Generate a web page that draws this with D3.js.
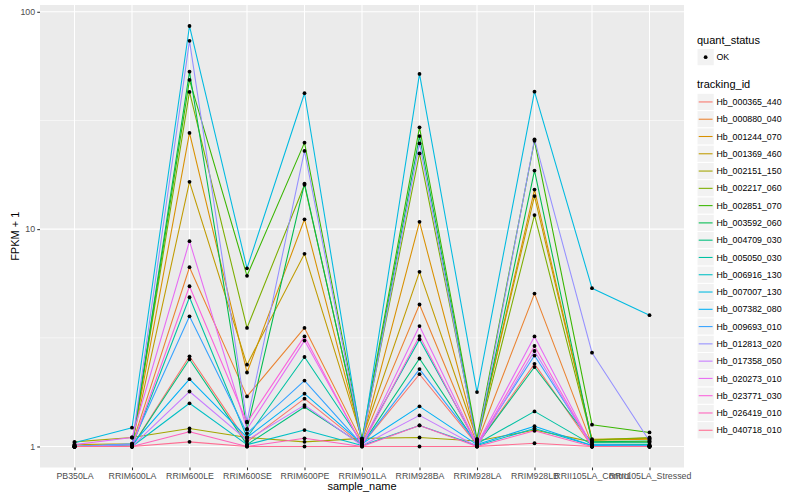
<!DOCTYPE html>
<html>
<head>
<meta charset="utf-8">
<script src="https://cdn.jsdelivr.net/npm/d3@7"></script>
<style>
  html, body { margin: 0; padding: 0; background: #ffffff; }
  svg { display: block; font-family: "Liberation Sans", Arial, Helvetica, sans-serif; }
</style>
</head>
<body>
<svg id="chart" width="800" height="500"></svg>
<script>
// ---------------- data (values are FPKM + 1) ----------------
const samples = ["PB350LA", "RRIM600LA", "RRIM600LE", "RRIM600SE", "RRIM600PE", "RRIM901LA",
                 "RRIM928BA", "RRIM928LA", "RRIM928LB", "RRII105LA_Control", "RRII105LA_Stressed"];

const trackingIds = ["Hb_000365_440", "Hb_000880_040", "Hb_001244_070", "Hb_001369_460", "Hb_002151_150",
                     "Hb_002217_060", "Hb_002851_070", "Hb_003592_060", "Hb_004709_030", "Hb_005050_030",
                     "Hb_006916_130", "Hb_007007_130", "Hb_007382_080", "Hb_009693_010", "Hb_012813_020",
                     "Hb_017358_050", "Hb_020273_010", "Hb_023771_030", "Hb_026419_010", "Hb_040718_010"];

const seriesColors = ["#F8766D", "#EA8331", "#D89000", "#C09B00", "#A3A500", "#7CAE00", "#39B600", "#00BB4E",
                      "#00BF7D", "#00C1A3", "#00BFC4", "#00BAE0", "#00B0F6", "#35A2FF", "#9590FF", "#C77CFF",
                      "#E76BF3", "#FA62DB", "#FF62BC", "#FF6C91"];

const quantStatus = ["OK"];

const hb_000365_440 = [1.00, 1.00, 2.60, 1.05, 1.66, 1.02, 2.15, 1.02, 2.40, 1.00, 1.00];
const hb_000880_040 = [1.00, 1.02, 6.68, 1.70, 3.51, 1.05, 4.50, 1.04, 5.05, 1.02, 1.01];
const hb_001244_070 = [1.00, 1.02, 27.7, 2.19, 11.1, 1.06, 10.8, 1.06, 15.2, 1.07, 1.08];
const hb_001369_460 = [1.02, 1.03, 16.5, 2.38, 7.70, 1.08, 6.36, 1.08, 14.2, 1.08, 1.09];
const hb_002151_150 = [1.05, 1.10, 1.21, 1.10, 1.05, 1.09, 1.10, 1.06, 1.19, 1.05, 1.05];
const hb_002217_060 = [1.00, 1.00, 42.8, 3.51, 16.0, 1.06, 22.3, 1.05, 11.6, 1.07, 1.10];
const hb_002851_070 = [1.00, 1.00, 48.6, 6.10, 25.0, 1.08, 29.4, 1.08, 25.5, 1.26, 1.16];
const hb_003592_060 = [1.00, 1.00, 53.0, 1.20, 16.2, 1.05, 26.8, 1.04, 18.6, 1.05, 1.06];
const hb_004709_030 = [1.00, 1.00, 2.52, 1.02, 1.52, 1.02, 2.54, 1.02, 2.32, 1.04, 1.04];
const hb_005050_030 = [1.00, 1.00, 4.86, 1.10, 2.58, 1.04, 3.11, 1.03, 1.45, 1.02, 1.02];
const hb_006916_130 = [1.00, 1.00, 1.58, 1.02, 1.19, 1.01, 1.25, 1.01, 1.21, 1.01, 1.00];
const hb_007007_130 = [1.04, 1.22, 86.0, 6.60, 42.2, 1.03, 51.8, 1.78, 42.9, 5.35, 4.02];
const hb_007382_080 = [1.00, 1.02, 2.04, 1.10, 1.75, 1.03, 1.53, 1.02, 1.24, 1.01, 1.00];
const hb_009693_010 = [1.00, 1.03, 3.97, 1.15, 2.01, 1.02, 2.27, 1.03, 2.62, 1.02, 1.01];
const hb_012813_020 = [1.00, 1.02, 73.5, 1.30, 22.9, 1.04, 24.8, 1.02, 25.9, 2.70, 1.06];
const hb_017358_050 = [1.00, 1.00, 1.79, 1.07, 1.55, 1.01, 1.39, 1.00, 2.75, 1.00, 1.00];
const hb_020273_010 = [1.02, 1.10, 8.80, 1.20, 3.07, 1.02, 3.58, 1.02, 3.21, 1.00, 1.00];
const hb_023771_030 = [1.00, 1.00, 5.46, 1.29, 3.21, 1.01, 3.22, 1.01, 2.90, 1.00, 1.00];
const hb_026419_010 = [1.00, 1.00, 1.17, 1.00, 1.09, 1.00, 1.25, 1.00, 1.18, 1.00, 1.00];
const hb_040718_010 = [1.00, 1.00, 1.05, 1.00, 1.00, 1.00, 1.00, 1.00, 1.035, 1.00, 1.00];

const seriesValues = [hb_000365_440, hb_000880_040, hb_001244_070, hb_001369_460, hb_002151_150,
                      hb_002217_060, hb_002851_070, hb_003592_060, hb_004709_030, hb_005050_030,
                      hb_006916_130, hb_007007_130, hb_007382_080, hb_009693_010, hb_012813_020,
                      hb_017358_050, hb_020273_010, hb_023771_030, hb_026419_010, hb_040718_010];

const yTicks = [1, 10, 100];
const yMinorTicks = [Math.sqrt(10), Math.sqrt(1000)];

// ---------------- layout ----------------
const svg = d3.select("#chart");
const panel = { left: 40, right: 684, top: 5, bottom: 467.5 };

const series = trackingIds.map((id, i) => ({
  id, color: seriesColors[i],
  points: samples.map((s, j) => ({ sample: s, value: seriesValues[i][j] }))
}));

const allVals = seriesValues.flat();
const lo = Math.log10(d3.min(allVals)), hi = Math.log10(d3.max(allVals));
const pad = (hi - lo) * 0.05;

const x = d3.scalePoint().domain(samples).range([panel.left, panel.right]).padding(0.6);
const y = d3.scaleLog().domain([Math.pow(10, lo - pad), Math.pow(10, hi + pad)])
            .range([panel.bottom, panel.top]);

const font = "\"Liberation Sans\", Arial, Helvetica, sans-serif";

// panel background
svg.append("rect")
  .attr("x", panel.left).attr("y", panel.top)
  .attr("width", panel.right - panel.left).attr("height", panel.bottom - panel.top)
  .attr("fill", "#EBEBEB");

// grid
const grid = svg.append("g");
grid.selectAll("line.minor").data(yMinorTicks).join("line")
  .attr("x1", panel.left).attr("x2", panel.right)
  .attr("y1", d => y(d)).attr("y2", d => y(d))
  .attr("stroke", "#ffffff").attr("stroke-width", 0.53);
grid.selectAll("line.majy").data(yTicks).join("line")
  .attr("x1", panel.left).attr("x2", panel.right)
  .attr("y1", d => y(d)).attr("y2", d => y(d))
  .attr("stroke", "#ffffff").attr("stroke-width", 1.07);
grid.selectAll("line.majx").data(samples).join("line")
  .attr("x1", d => x(d)).attr("x2", d => x(d))
  .attr("y1", panel.top).attr("y2", panel.bottom)
  .attr("stroke", "#ffffff").attr("stroke-width", 1.07);

// lines
const line = d3.line().x(d => x(d.sample)).y(d => y(d.value));
svg.append("g").selectAll("path").data(series).join("path")
  .attr("d", d => line(d.points))
  .attr("fill", "none")
  .attr("stroke", d => d.color)
  .attr("stroke-width", 1.07)
  .attr("stroke-linejoin", "round");

// points
svg.append("g").selectAll("circle")
  .data(series.flatMap(s => s.points))
  .join("circle")
  .attr("cx", d => x(d.sample)).attr("cy", d => y(d.value))
  .attr("r", 1.9).attr("fill", "#000000");

// axes
const yAxis = d3.axisLeft(y).tickValues(yTicks).tickFormat(d3.format("d")).tickSize(2.75).tickPadding(2.2);
const gy = svg.append("g").attr("transform", `translate(${panel.left},0)`).call(yAxis);
gy.select(".domain").remove();
gy.selectAll(".tick line").attr("stroke", "#333333").attr("stroke-width", 1.07);
gy.selectAll(".tick text").attr("fill", "#4D4D4D").style("font-size", "8.8px").style("font-family", font);

const xAxis = d3.axisBottom(x).tickSize(2.75).tickPadding(2.2);
const gx = svg.append("g").attr("transform", `translate(0,${panel.bottom})`).call(xAxis);
gx.select(".domain").remove();
gx.selectAll(".tick line").attr("stroke", "#333333").attr("stroke-width", 1.07);
gx.selectAll(".tick text").attr("fill", "#4D4D4D").style("font-size", "8.8px").style("font-family", font);

// axis titles
svg.append("text")
  .attr("x", (panel.left + panel.right) / 2).attr("y", 490)
  .attr("text-anchor", "middle").style("font-size", "11px").style("font-family", font)
  .attr("fill", "#000000").text("sample_name");
svg.append("text")
  .attr("transform", `translate(19,${(panel.top + panel.bottom) / 2}) rotate(-90)`)
  .attr("text-anchor", "middle").style("font-size", "11px").style("font-family", font)
  .attr("fill", "#000000").text("FPKM + 1");

// legends
const lgX = 697, keySize = 17.28;
const lg = svg.append("g");
lg.append("text").attr("x", lgX).attr("y", 44)
  .style("font-size", "11px").style("font-family", font).text("quant_status");
const qs = lg.selectAll("g.qs").data(quantStatus).join("g")
  .attr("transform", (d, i) => `translate(${lgX},${48.5 + i * keySize})`);
qs.append("rect").attr("width", keySize).attr("height", keySize)
  .attr("fill", "#F2F2F2").attr("stroke", "#ffffff").attr("stroke-width", 1);
qs.append("circle").attr("cx", keySize / 2).attr("cy", keySize / 2).attr("r", 1.9).attr("fill", "#000");
qs.append("text").attr("x", keySize + 2.2).attr("y", keySize / 2 + 3.1)
  .style("font-size", "8.8px").style("font-family", font).text(d => d);

lg.append("text").attr("x", lgX).attr("y", 88)
  .style("font-size", "11px").style("font-family", font).text("tracking_id");
const tk = lg.selectAll("g.tk").data(series).join("g")
  .attr("transform", (d, i) => `translate(${lgX},${93.3 + i * keySize})`);
tk.append("rect").attr("width", keySize).attr("height", keySize)
  .attr("fill", "#F2F2F2").attr("stroke", "#ffffff").attr("stroke-width", 1);
tk.append("line").attr("x1", 1.7).attr("x2", keySize - 1.7)
  .attr("y1", keySize / 2).attr("y2", keySize / 2)
  .attr("stroke", d => d.color).attr("stroke-width", 1.07);
tk.append("text").attr("x", keySize + 2.2).attr("y", keySize / 2 + 3.1)
  .style("font-size", "8.8px").style("font-family", font).text(d => d.id);
</script>
</body>
</html>
